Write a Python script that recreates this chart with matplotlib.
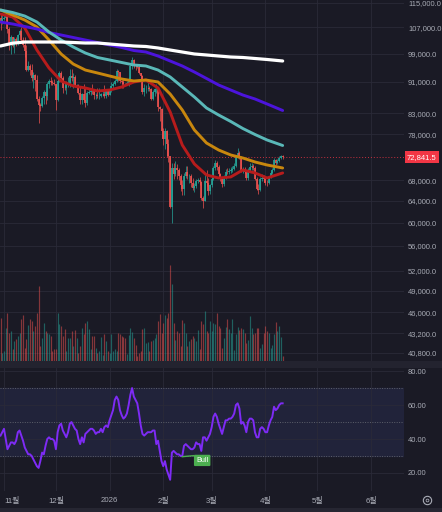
import numpy as np
import pandas as pd
import matplotlib
matplotlib.use("Agg")
import matplotlib.pyplot as plt
import matplotlib.dates as mdates
from matplotlib.patches import Rectangle
from matplotlib.lines import Line2D
from matplotlib.ticker import NullLocator

# ---- data ----
start = "2025-10-30"
open0 = 110000
close = [108300, 109600,
         110100, 110600, 106500, 101600, 103900, 101300, 103400, 102300, 104700, 105900, 103000, 101600, 99700, 94400, 95500,
         94200, 92200, 92900, 91500, 86600, 85100, 84700, 86800, 88300, 87300, 90500, 91300, 90900, 90800, 90400,
         86300, 91300, 93500, 92100, 89400, 89300, 90400, 90600, 92700, 92000, 92500, 90300, 90300, 88200, 86400, 87800,
         86200, 85500, 88100, 88300, 88600, 88500, 87500, 87600, 87300, 87300, 87800, 87900, 87200, 88500, 87600,
         88700, 90000, 90600, 91400, 93900, 93700, 91300, 91000, 90500, 90400, 90800, 91200, 95300, 97000, 95600, 95500,
         95100, 93600, 92600, 88300, 89400, 89500, 89500, 89200, 86600, 88300, 89200, 89200, 84600, 84100, 78600,
         76900, 78700, 75700, 73000, 62900, 70500, 69300, 70500, 70100, 68800, 67000, 66200, 68800, 69800, 68800, 68800,
         67500, 66400, 66900, 67900, 68000, 67600, 64600, 64000, 67900, 67500, 65900, 67000,
         68300, 70500, 71500, 70800, 69200, 68200, 67300, 68600, 69800, 69700, 70000, 70100, 70400, 71000, 73000, 73800,
         72900, 70000, 70300, 69800, 68400, 70200, 70800, 70900, 70600, 68300, 66300, 66000, 68200, 68500, 68200,
         67500, 67400, 68600, 69600, 70200, 72200, 71600, 72000, 72700, 73050, 72841.5]
high = [111600, 111200,
        111200, 111200, 110800, 107000, 104500, 104000, 104000, 104000, 105000, 106600, 107000, 104000, 104000, 101600, 96800,
        96000, 95900, 93800, 93200, 92800, 87400, 85600, 87400, 89000, 89000, 91000, 91900, 92500, 91500, 91900,
        90400, 92000, 94100, 94000, 92700, 90300, 91200, 92300, 94600, 94500, 93500, 92800, 90600, 90600, 90000, 88200,
        90400, 89400, 88500, 89400, 89000, 90500, 88900, 88000, 89300, 89500, 88000, 88800, 90300, 89000, 89000,
        88900, 90900, 91000, 91700, 94700, 94400, 93700, 91500, 92000, 90800, 91300, 92400, 96200, 97900, 97300, 95800,
        95600, 95500, 93400, 92800, 90400, 90300, 91200, 89900, 89300, 88900, 89400, 90500, 88900, 84800, 84300,
        79300, 79300, 79000, 76900, 73000, 71600, 71500, 72000, 71300, 70600, 69200, 68100, 69400, 70900, 70900, 69300,
        69300, 68400, 67400, 68300, 68400, 68700, 67800, 65000, 69000, 70100, 68400, 67300,
        68900, 70900, 72300, 72000, 71200, 69600, 68500, 69000, 70300, 70600, 70600, 70800, 71000, 71600, 73400, 74800,
        74200, 73100, 70700, 70700, 70100, 70600, 71500, 71500, 71400, 70900, 68600, 67200, 68600, 69200, 69000,
        68600, 68100, 68900, 69900, 70600, 72600, 72500, 72400, 73000, 73400, 73300]
low = [106300, 108000,
       109200, 109700, 105300, 100000, 98900, 100900, 99300, 101200, 101400, 104300, 102600, 100800, 98000, 94000, 94000,
       93000, 91300, 89300, 88600, 86100, 80600, 83400, 84600, 85300, 85300, 86400, 89500, 90200, 90300, 90300,
       83800, 86000, 91000, 91700, 88100, 88900, 87700, 89600, 89600, 91200, 89300, 89600, 89900, 87800, 85200, 85300,
       85900, 84400, 84900, 87800, 87600, 87700, 86500, 86500, 86900, 86600, 87000, 87300, 86800, 86800, 87300,
       87500, 88300, 89300, 90100, 91000, 91300, 90700, 89400, 89500, 90100, 90200, 90000, 91000, 94500, 94800, 94300,
       94900, 93100, 91800, 87800, 87300, 88100, 88600, 88700, 86200, 86200, 87200, 88000, 83400, 81000, 77000,
       75600, 74700, 72900, 71900, 62600, 60000, 68300, 68900, 68200, 68000, 65800, 65100, 65200, 68500, 68300, 67500,
       66600, 66000, 65600, 66400, 67400, 67000, 64100, 62600, 63900, 66900, 65200, 65300,
       66600, 68000, 70100, 70200, 68700, 67800, 66700, 66900, 68300, 69200, 69300, 69600, 69700, 70100, 70800, 72600,
       72400, 69700, 69500, 69400, 68000, 68100, 69900, 70200, 70200, 68000, 66000, 65400, 65800, 67900, 67600,
       67100, 66800, 67200, 68400, 69300, 70000, 71200, 71300, 71700, 72400, 72500]
volume_k = [43, 8, 10, 33, 48, 28, 30, 12, 20, 22, 25, 28, 42, 46, 13, 22, 36, 42, 40, 30, 35, 48,
            75,
            15, 23, 38, 30, 28, 27, 25, 10, 12, 12, 48, 37, 35, 25, 32, 10, 23, 23, 30, 15, 31, 23, 8, 15, 33, 27,
            38, 40, 32, 12, 25, 25, 13, 8, 10, 24, 6, 27, 20, 10, 8, 27, 10, 12, 10, 28, 27, 25, 24, 23, 7, 26,
            33, 29, 23, 16, 5, 8, 10, 32, 33, 18, 19, 10, 20, 21, 23, 27, 40, 47, 28, 38, 46, 43, 48,
            96, 77,
            38, 21, 30, 28, 15, 41, 38, 28, 15, 20, 22, 25, 23, 20, 31, 12,
            40, 37, 50, 30, 28, 40, 30, 38, 37, 48, 35, 33, 13, 23, 34, 42, 32, 28, 42, 11, 27, 34, 31, 33,
            32, 28, 18, 21, 45, 33, 27, 28, 33, 33, 13, 17, 28, 35, 30, 28, 13, 16, 27, 39, 30, 35, 24, 5]
rsi = [42, 44, 46, 40, 34, 36, 38, 38, 37, 39, 44, 45, 42, 39, 35, 33, 31, 31, 30, 28,
       26, 24, 23, 27, 32, 31, 36, 40, 41, 40, 40, 39, 34, 44, 48, 49, 45, 43, 41, 44,
       49, 50, 48, 46, 45, 40, 37, 41, 38, 43, 44, 45, 46, 46, 45, 43, 44, 44, 46, 44,
       47, 48, 47, 51, 54, 57, 63, 65, 63, 57, 54, 52, 53, 55, 60, 66, 70, 65, 63, 61,
       55, 48, 43, 42, 43, 44, 44, 44, 45, 45, 37, 39, 33, 27, 24, 27, 22, 19, 16, 32,
       33, 32, 31, 31, 30, 30, 36, 37, 36, 35, 34, 34, 35, 38, 37, 37, 33, 41, 41, 39,
       41, 43, 47, 53, 55, 53, 49, 46, 43, 47, 51, 51, 52, 52, 53, 55, 60, 61, 58, 49,
       50, 48, 44, 50, 52, 52, 51, 44, 41, 41, 46, 47, 46, 44, 44, 48, 51, 53, 59, 57,
       58, 60, 61, 61]

ma_dates = ["2025-10-30", "2025-11-06", "2025-11-13", "2025-11-20", "2025-11-27", "2025-12-04",
            "2025-12-11", "2025-12-18", "2025-12-25", "2026-01-01", "2026-01-08", "2026-01-15",
            "2026-01-22", "2026-01-29", "2026-02-05", "2026-02-12", "2026-02-19", "2026-02-26",
            "2026-03-05", "2026-03-12", "2026-03-19", "2026-03-26", "2026-04-02", "2026-04-11"]
ma_red = [111310, 110330, 106790, 100050, 94860, 91280, 89940, 89410, 88610, 88870, 89670, 91010,
          91540, 89410, 83280, 75510, 71380, 69100, 68480, 68690, 70130, 69510, 68480, 69510]
ma_orange = [112640, 110980, 109350, 107110, 103060, 98880, 95990, 94290, 93470, 92640, 91820, 91280,
             91540, 91010, 87820, 83770, 78950, 75960, 74400, 73310, 72660, 71810, 71170, 70540]
ma_teal = [112640, 111810, 110650, 108710, 105530, 103060, 100950, 99170, 97860, 97140, 96420, 95710,
           95430, 94290, 92370, 89670, 87050, 84260, 82530, 80960, 79290, 77900, 76640, 75400]
ma_purple = [108710, 108070, 107270, 106480, 105370, 104600, 103830, 103060, 102300, 101550, 100800, 99900,
             99460, 98290, 96850, 95430, 93740, 91960, 90200, 88870, 87560, 86540, 85270, 83640]
ma_white = [101250, 102100, 102450, 102450, 102450, 102450, 102300, 102150, 102150, 101850, 101550, 101250,
            101100, 100650, 100050, 99460, 98880, 98590, 98290, 98000, 97860, 97570, 97280, 96850]

price_ticks = [115000, 107000, 99000, 91000, 83000, 78000, 68000, 64000, 60000, 56000,
               52000, 49000, 46000, 43200, 40800]
last_price = 72841.5
rsi_ticks = [20, 40, 60, 80]
month_ticks = ["2025-11-01", "2025-12-01", "2026-01-01", "2026-02-01", "2026-03-01",
               "2026-04-01", "2026-05-01", "2026-06-01"]
month_labels = ["11월", "12월", "2026", "2월", "3월", "4월", "5월", "6월"]
bull_dates = ["2026-02-12", "2026-02-18"]
bull_vals = [29.6, 30.2]

# ---- style ----
BG = "#1a1a25"
GRID = "#2a2a38"
TXT = "#a9acb6"
UP, DN = "#26a69a", "#ef5350"
plt.rcParams["font.family"] = ["Liberation Sans", "Noto Sans CJK KR", "DejaVu Sans"]

W, H = 442, 512
def box(x0, y0, x1, y1):
    return [x0 / W, 1 - y1 / H, (x1 - x0) / W, (y1 - y0) / H]

fig = plt.figure(figsize=(W / 100, H / 100), dpi=100)
fig.patch.set_facecolor(BG)
ax = fig.add_axes(box(0, 0, 404, 361))
axr = fig.add_axes(box(0, 368, 404, 491), sharex=ax)
axv = ax.twinx()

dates = pd.date_range(start, periods=len(close), freq="D")
x = mdates.date2num(dates)
c = np.array(close, dtype=float)
o = np.array([open0] + close[:-1], dtype=float)
hi = np.maximum.reduce([np.array(high, float), o, c])
lo = np.minimum.reduce([np.array(low, float), o, c])
cols = np.where(c >= o, UP, DN)

# candles
ax.vlines(x, lo, hi, colors=cols, lw=0.5, zorder=2)
ax.vlines(x, np.minimum(o, c), np.maximum(o, c), colors=cols, lw=1.2, zorder=2)

# moving averages
mx = mdates.date2num(pd.to_datetime(ma_dates))
for vals, col, lw in [(ma_red, "#b71c1c", 2.1), (ma_orange, "#c8870e", 2.1), (ma_purple, "#4c14dc", 2.1),
                      (ma_teal, "#5ab8b8", 2.1), (ma_white, "#ffffff", 2.3)]:
    ax.plot(mx, vals, color=col, lw=lw, solid_capstyle="round", solid_joinstyle="round", zorder=3)

ax.axhline(last_price, color="#f23645", lw=0.7, ls=(0, (1, 2)), alpha=0.8, zorder=1)
ax.text(1.0075, last_price, f"{last_price:,.1f}", transform=ax.get_yaxis_transform(),
        ha="left", va="center", color="white", fontsize=5.5, clip_on=False, zorder=5,
        bbox=dict(boxstyle="square,pad=0.3", fc="#f23645", ec="none"))

ax.set_yscale("log")
ax.set_ylim(39820, 116030)
ax.set_yticks(price_ticks)
ax.yaxis.set_minor_locator(NullLocator())
ax.set_yticklabels([f"{v:,.1f}" for v in price_ticks])
ax.yaxis.tick_right()

# volume
vcols = np.where(c >= o, UP, DN)
axv.vlines(x, 0, np.array(volume_k) * 1000, colors=vcols, lw=0.85, alpha=0.5)
axv.set_ylim(0, 361000)
axv.axis("off")

# RSI
axr.axhspan(30, 70, color="#21233a", zorder=0)
for lvl in (70, 50, 30):
    axr.axhline(lvl, color="#5d606b", lw=0.7, ls=(0, (1, 1.5)), zorder=1)
axr.plot(x, rsi, color="#7e2bf5", lw=1.4, zorder=3)
bx = mdates.date2num(pd.to_datetime(bull_dates)) + np.array([0, 0.5])
axr.plot(bx, bull_vals, color="#4caf50", lw=1.0, zorder=3)
axr.text(mdates.date2num(pd.Timestamp("2026-02-23")) + 0.5, 27.4, "Bull", color="white",
         fontsize=5.2, ha="center", va="center", zorder=4,
         bbox=dict(boxstyle="round,pad=0.3,rounding_size=0.15", fc="#4caf50", ec="none"))
axr.set_ylim(9.4, 81.8)
axr.set_yticks(rsi_ticks)
axr.set_yticklabels([f"{v:.2f}" for v in rsi_ticks])
axr.yaxis.tick_right()

mt = mdates.date2num(pd.to_datetime(month_ticks))
nov1 = mt[0]
axr.set_xlim(nov1 - 2.31, nov1 + 231.1)
axr.set_xticks(mt)
axr.set_xticklabels(month_labels)

for a in (ax, axr):
    a.set_facecolor(BG)
    for s in a.spines.values():
        s.set_visible(False)
    a.grid(True, color=GRID, lw=0.6, zorder=0)
    a.set_axisbelow(True)
    a.tick_params(axis="y", length=0, pad=2.9, labelsize=5.4, labelcolor=TXT)
    a.tick_params(axis="x", length=0, pad=4.5, labelsize=5.7, labelcolor=TXT)
ax.tick_params(axis="x", labelbottom=False)
axr.get_xticklabels()[0].set_horizontalalignment("left")

# pane separator, bottom strip and settings ring
fig.add_artist(Rectangle((0, 1 - 368 / H), 1, 7 / H, transform=fig.transFigure,
                         fc="#23232f", ec="none"))
fig.add_artist(Rectangle((0, 0), 1, 4 / H, transform=fig.transFigure, fc="#262632", ec="none"))
fig.add_artist(Line2D([427 / W], [1 - 500 / H], marker="o", ms=6, mfc="none", mec=TXT, mew=0.8,
                      transform=fig.transFigure))
fig.add_artist(Line2D([427 / W], [1 - 500 / H], marker="o", ms=2, mfc="none", mec=TXT, mew=0.6,
                      transform=fig.transFigure))

fig.savefig("out.png", dpi=100, facecolor=BG)
